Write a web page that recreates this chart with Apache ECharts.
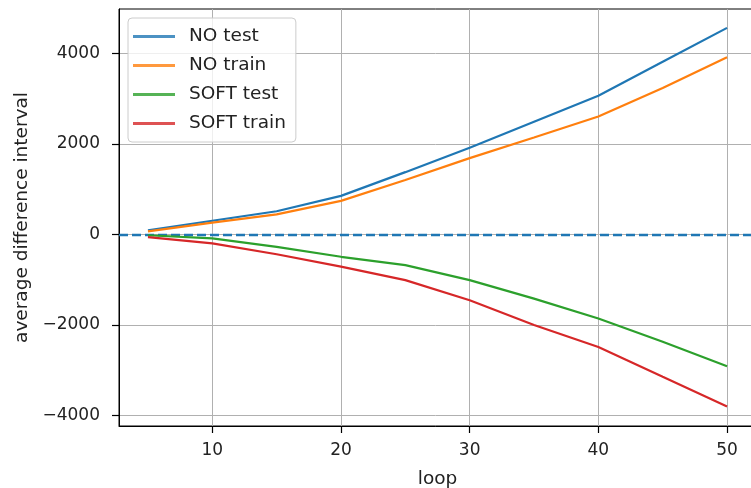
<!DOCTYPE html>
<html>
<head>
<meta charset="utf-8">
<script src="https://cdn.jsdelivr.net/npm/echarts@6/dist/echarts.min.js"></script>
<style>html,body{margin:0;padding:0;background:#fff}#c{width:751px;height:488px}</style>
</head>
<body>
<div id="c"></div>
<script>
const loops = [5, 10, 15, 20, 25, 30, 35, 40, 45, 50];
const noTest = [90, 300, 510, 850, 1375, 1915, 2490, 3065, 3815, 4565];
const noTrain = [65, 258, 440, 740, 1200, 1685, 2140, 2605, 3235, 3915];
const softTest = [-20, -90, -275, -496, -680, -1012, -1420, -1860, -2375, -2915];
const softTrain = [-60, -200, -440, -715, -1012, -1456, -2005, -2490, -3150, -3805];
const xTicks = [10, 20, 30, 40, 50];
const yTicks = [-4000, -2000, 0, 2000, 4000];
const seriesNames = ['NO test', 'NO train', 'SOFT test', 'SOFT train'];
const colors = ['#1f77b4', '#ff7f0e', '#2ca02c', '#d62728'];

const allData = [noTest, noTrain, softTest, softTrain];
const font = 'DejaVu Sans';
const tickFs = 17;
const fs = 18.5;

const series = allData.map((vals, i) => {
  const s = {
    name: seriesNames[i],
    type: 'line',
    data: loops.map((x, j) => [x, vals[j]]),
    symbol: 'none',
    smooth: false,
    lineStyle: { color: colors[i], width: 2.2 },
    itemStyle: { color: colors[i] },
    z: 3 + i,
    animation: false
  };
  if (i === 3) {
    s.markLine = {
      silent: true,
      symbol: ['none', 'none'],
      label: { show: false },
      lineStyle: { color: '#1f77b4', width: 2.4, type: [9, 4] },
      data: [{ yAxis: 0 }],
      animation: false
    };
  }
  return s;
});

const chart = echarts.init(document.getElementById('c'), null, { renderer: 'canvas' });
chart.setOption({
  animation: false,
  backgroundColor: '#fff',
  grid: {
    left: 119, top: 9, width: 637, bottom: 62,
    containLabel: false,
    outerBoundsMode: 'none',
    show: true, borderColor: '#000', borderWidth: 1, backgroundColor: 'transparent'
  },
  legend: {
    orient: 'vertical',
    left: 128, top: 18,
    padding: [9, 10, 9, 5],
    icon: 'rect',
    itemWidth: 42, itemHeight: 3, itemGap: 10,
    itemStyle: { opacity: 0.8 },
    backgroundColor: 'rgba(255,255,255,0.8)',
    borderColor: '#cccccc', borderWidth: 1, borderRadius: 4,
    textStyle: { fontFamily: font, fontSize: fs, color: '#222', lineHeight: 19, padding: [0, 0, 0, 9] },
    data: seriesNames
  },
  xAxis: {
    type: 'value',
    min: 2.75, max: 52.25,
    splitNumber: 5,
    name: 'loop',
    nameLocation: 'middle',
    nameGap: 44,
    nameTextStyle: { fontFamily: font, fontSize: fs, color: '#222' },
    axisLine: { show: true, onZero: false, lineStyle: { color: '#000', width: 1 } },
    axisTick: { show: true, length: 7, lineStyle: { color: '#000', width: 1.2 }, customValues: xTicks },
    axisLabel: { fontFamily: font, fontSize: tickFs, color: '#222', margin: 16, customValues: xTicks },
    splitLine: { show: true, lineStyle: { color: '#b0b0b0', width: 1 } }
  },
  yAxis: {
    type: 'value',
    min: -4237, max: 4982,
    splitNumber: 5,
    name: 'average difference interval',
    nameLocation: 'middle',
    nameGap: 86,
    nameTextStyle: { fontFamily: font, fontSize: fs, color: '#222' },
    axisLine: { show: true, onZero: false, lineStyle: { color: '#000', width: 1 } },
    axisTick: { show: true, length: 7, lineStyle: { color: '#000', width: 1.2 }, customValues: yTicks },
    axisLabel: {
      fontFamily: font, fontSize: tickFs, color: '#222', margin: 19,
      customValues: yTicks,
      formatter: v => (v < 0 ? '\u2212' + Math.abs(v) : String(v))
    },
    splitLine: { show: true, lineStyle: { color: '#b0b0b0', width: 1 } }
  },
  series: series
});
</script>
</body>
</html>
